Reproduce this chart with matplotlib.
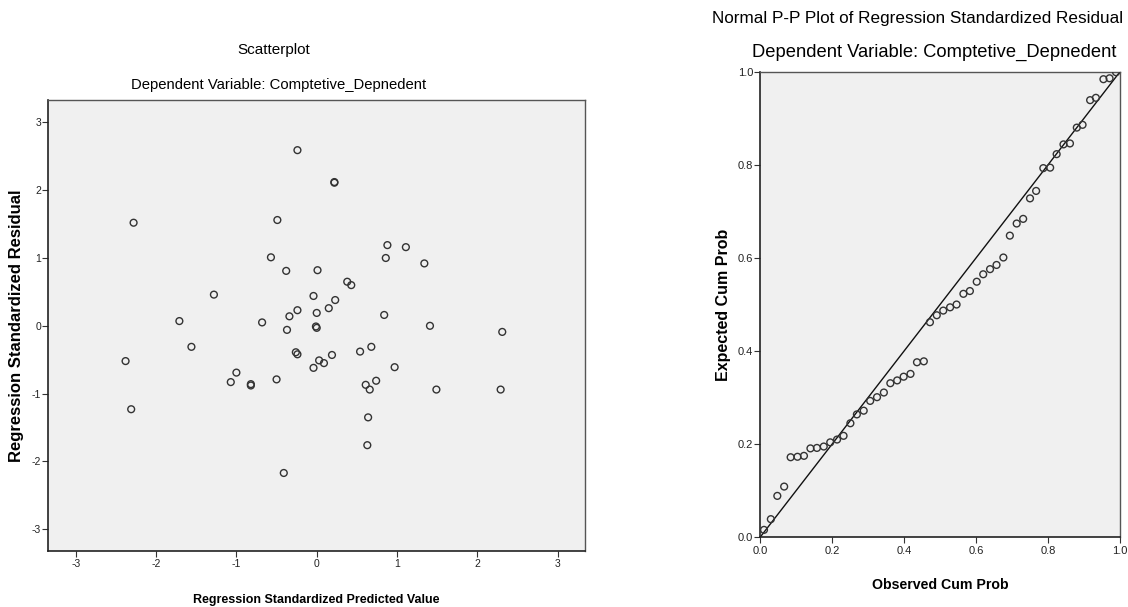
import matplotlib

matplotlib.use("Agg")
import matplotlib.pyplot as plt

FACE = "#f0f0f0"
EDGE = "#333333"
TEXT = "#000000"

# scatter of standardized predicted value vs standardized residual
pred_values = [
    -0.24, -2.28, -0.49, -0.57, -0.38, 0.01, -1.28, -0.04, -0.24, -0.34,
    0.00, 0.22, 0.22, 0.88, 1.11, 0.86, 1.34, 0.38, 0.43, 0.23,
    0.15, 0.84, -1.71, -0.68, -0.37, -0.01, 0.00, -1.56, -2.38, -0.26,
    -0.24, 0.03, -0.04, -1.00, -1.07, -0.82, -0.82, -0.50, -2.31, -0.41,
    1.41, 2.31, 0.54, 0.68, 0.09, 0.19, 0.97, 0.61, 0.74, 0.66,
    1.49, 2.29, 0.64, 0.63,
]
resid_values = [
    2.59, 1.52, 1.56, 1.01, 0.81, 0.82, 0.46, 0.44, 0.23, 0.14,
    0.19, 2.11, 2.12, 1.19, 1.16, 1.00, 0.92, 0.65, 0.60, 0.38,
    0.26, 0.16, 0.07, 0.05, -0.06, -0.01, -0.03, -0.31, -0.52, -0.39,
    -0.42, -0.51, -0.62, -0.69, -0.83, -0.86, -0.88, -0.79, -1.23, -2.17,
    0.00, -0.09, -0.38, -0.31, -0.55, -0.43, -0.61, -0.87, -0.81, -0.94,
    -0.94, -0.94, -1.35, -1.76,
]
scatter_ticks = [-3, -2, -1, 0, 1, 2, 3]

# normal P-P plot
observed_cum = [
    0.011, 0.030, 0.048, 0.067, 0.085, 0.104, 0.122, 0.140, 0.158, 0.177,
    0.195, 0.214, 0.232, 0.251, 0.269, 0.288, 0.306, 0.325, 0.344, 0.362,
    0.381, 0.399, 0.418, 0.436, 0.455, 0.472, 0.491, 0.509, 0.528, 0.546,
    0.565, 0.583, 0.602, 0.620, 0.639, 0.657, 0.676, 0.694, 0.713, 0.731,
    0.750, 0.767, 0.787, 0.806, 0.824, 0.843, 0.861, 0.880, 0.896, 0.917,
    0.933, 0.954, 0.971, 0.989,
]
expected_cum = [
    0.016, 0.039, 0.089, 0.109, 0.172, 0.173, 0.175, 0.191, 0.192, 0.195,
    0.204, 0.210, 0.218, 0.245, 0.264, 0.272, 0.293, 0.301, 0.311, 0.331,
    0.337, 0.345, 0.351, 0.376, 0.378, 0.462, 0.477, 0.487, 0.494, 0.500,
    0.523, 0.529, 0.549, 0.565, 0.576, 0.585, 0.601, 0.648, 0.674, 0.684,
    0.728, 0.744, 0.793, 0.794, 0.823, 0.844, 0.846, 0.880, 0.886, 0.939,
    0.944, 0.984, 0.986, 0.999,
]
pp_ticks = [0.0, 0.2, 0.4, 0.6, 0.8, 1.0]

plt.rcParams.update(
    {
        "font.family": ["Liberation Sans", "DejaVu Sans"],
        "font.size": 9,
        "text.color": TEXT,
        "axes.unicode_minus": False,
        "xtick.color": EDGE,
        "ytick.color": EDGE,
        "xtick.labelcolor": "#222222",
        "ytick.labelcolor": "#222222",
        "xtick.labelsize": 7.5,
        "ytick.labelsize": 7.5,
        "xtick.major.size": 4,
        "ytick.major.size": 4,
        "xtick.major.pad": 2,
        "ytick.major.pad": 1,
    }
)


def _frame(ax):
    ax.set_facecolor(FACE)
    for side in ("top", "right"):
        ax.spines[side].set_color("#555555")
        ax.spines[side].set_linewidth(1.0)
    for side in ("left", "bottom"):
        ax.spines[side].set_color("#222222")
        ax.spines[side].set_linewidth(1.2)


fig = plt.figure(figsize=(11.28, 6.07), dpi=100)

# left: scatterplot
ax = fig.add_axes([0.0426, 0.0923, 0.476, 0.743])
_frame(ax)
ax.scatter(
    pred_values,
    resid_values,
    s=24,
    facecolors="none",
    edgecolors=EDGE,
    linewidths=1.0,
    zorder=3,
)
ax.set_xlim(-3.345, 3.34)
ax.set_ylim(-3.32, 3.33)
ax.set_xticks(scatter_ticks)
ax.set_yticks(scatter_ticks)
ax.set_xlabel("Regression Standardized Predicted Value", fontsize=9, weight="bold")
ax.set_ylabel("Regression Standardized Residual", fontsize=12, weight="bold")
ax.xaxis.set_label_coords(0.5, -0.095)
ax.yaxis.set_label_coords(-0.045, 0.5)
fig.text(0.243, 0.918, "Scatterplot", ha="center", va="center", fontsize=11)
fig.text(
    0.247, 0.860, "Dependent Variable: Comptetive_Depnedent",
    ha="center", va="center", fontsize=10.7,
)

# right: normal P-P plot
ax = fig.add_axes([0.6738, 0.1148, 0.3191, 0.767])
_frame(ax)
ax.plot([0, 1], [0, 1], color="#111111", lw=1.0, zorder=2)
ax.scatter(
    observed_cum,
    expected_cum,
    s=24,
    facecolors="none",
    edgecolors=EDGE,
    linewidths=1.0,
    zorder=3,
)
ax.set_xlim(0, 1)
ax.set_ylim(0, 1)
ax.set_xticks(pp_ticks)
ax.set_yticks(pp_ticks)
ax.set_xticklabels([f"{t:.1f}" for t in pp_ticks], fontsize=8)
ax.set_yticklabels([f"{t:.1f}" for t in pp_ticks], fontsize=8)
ax.set_xlabel("Observed Cum Prob", fontsize=10.2, weight="bold")
ax.set_ylabel("Expected Cum Prob", fontsize=11.5, weight="bold")
ax.xaxis.set_label_coords(0.5, -0.088)
ax.yaxis.set_label_coords(-0.08, 0.5)
fig.text(
    0.813, 0.970, "Normal P-P Plot of Regression Standardized Residual",
    ha="center", va="center", fontsize=12.3,
)
fig.text(
    0.828, 0.914, "Dependent Variable: Comptetive_Depnedent",
    ha="center", va="center", fontsize=13.2,
)

fig.savefig("out.png", dpi=100)
